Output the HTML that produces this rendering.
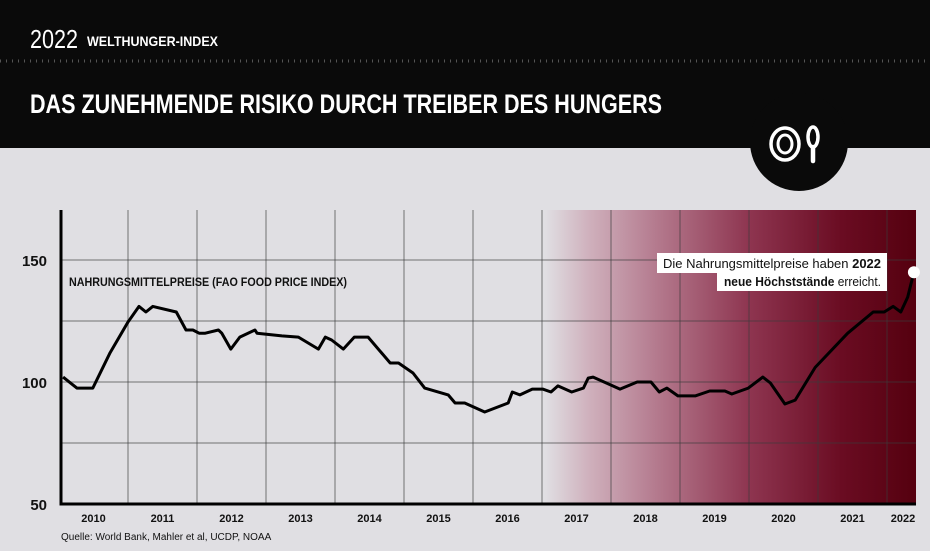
<!DOCTYPE html>
<html><head><meta charset="utf-8"><style>
html,body{margin:0;padding:0;background:#e0dfe3;}
svg{display:block;font-family:"Liberation Sans",sans-serif;}
</style></head><body>
<svg id="chart" width="930" height="551" viewBox="0 0 930 551" xmlns="http://www.w3.org/2000/svg">
<defs>
<linearGradient id="grad" x1="0" x2="1" y1="0" y2="0">
<stop offset="0" stop-color="#e0dfe3"/>
<stop offset="0.12" stop-color="#cfb0bc"/>
<stop offset="0.3" stop-color="#b47a8e"/>
<stop offset="0.55" stop-color="#8e3550"/>
<stop offset="0.8" stop-color="#6a0c22"/>
<stop offset="1" stop-color="#55000f"/>
</linearGradient>
</defs>
<rect x="0" y="0" width="930" height="551" fill="#e0dfe3"/>
<rect x="0" y="0" width="930" height="148" fill="#0a0a0a"/>
<line x1="0" y1="61" x2="930" y2="61" stroke="#555" stroke-width="3" stroke-dasharray="1 5"/>
<text x="30" y="48" fill="#fff" font-size="26" textLength="48" lengthAdjust="spacingAndGlyphs">2022</text>
<text x="87" y="46" fill="#fff" font-size="14" font-weight="bold" textLength="131" lengthAdjust="spacingAndGlyphs">WELTHUNGER-INDEX</text>
<text x="30" y="113" fill="#fff" font-size="27" font-weight="bold" textLength="632" lengthAdjust="spacingAndGlyphs">DAS ZUNEHMENDE RISIKO DURCH TREIBER DES HUNGERS</text>
<g>
<circle cx="799" cy="142" r="49" fill="#0a0a0a"/>
<ellipse cx="785" cy="144" rx="14" ry="16" fill="none" stroke="#fff" stroke-width="3.5"/>
<ellipse cx="785" cy="144" rx="7" ry="9" fill="none" stroke="#fff" stroke-width="3"/>
<ellipse cx="813" cy="137" rx="5" ry="10" fill="none" stroke="#fff" stroke-width="3.5"/>
<line x1="813" y1="147" x2="813" y2="161" stroke="#fff" stroke-width="4.5" stroke-linecap="round"/>
</g>
<g id="plot"></g>
</svg>
<script>
const yTicks=[50,100,150];
const yGrid=[75,100,125,150];
const yearLabels=["2010","2011","2012","2013","2014","2015","2016","2017","2018","2019","2020","2021","2022"];
const times=[2010.06,2010.26,2010.49,2010.74,2011.0,2011.16,2011.26,2011.36,2011.70,2011.84,2011.94,2012.03,2012.12,2012.31,2012.36,2012.49,2012.62,2012.84,2012.87,2013.23,2013.47,2013.76,2013.86,2013.95,2014.12,2014.28,2014.48,2014.80,2014.92,2015.13,2015.30,2015.64,2015.74,2015.88,2016.17,2016.51,2016.57,2016.68,2016.86,2017.01,2017.13,2017.23,2017.43,2017.60,2017.67,2017.74,2018.13,2018.38,2018.58,2018.70,2018.81,2018.97,2019.22,2019.43,2019.65,2019.75,2019.99,2020.20,2020.31,2020.52,2020.67,2020.96,2021.43,2021.80,2021.96,2022.09,2022.20,2022.30,2022.39];
const values=[102,97.5,97.5,112,124.6,131,128.7,131,128.7,121.3,121.3,120,120,121.3,120,113.5,118.4,121.3,120,118.9,118.4,113.5,118.4,117.2,113.5,118.4,118.4,107.8,107.8,103.7,97.5,94.7,91.4,91.4,87.7,91.4,95.9,94.7,97.1,97.1,95.9,98.4,95.9,97.5,101.6,102,97.1,100,100,95.9,97.5,94.3,94.3,96.3,96.3,95.1,97.5,102,99.6,91,92.6,106,120,128.7,128.7,131,128.7,134.8,145];

const NS="http://www.w3.org/2000/svg";
const g=document.getElementById('plot');
const X0=59,YW=69,L=61,R=916,T=210,B=504;
function xs(t){return X0+(t-2010)*YW;}
function ys(v){return 382-(v-100)*2.44;}
function mk(tag,attrs,parent){const e=document.createElementNS(NS,tag);for(const k in attrs)e.setAttribute(k,attrs[k]);(parent||g).appendChild(e);return e;}

const bg=mk('rect',{x:545,y:T,width:R-545,height:B-T,fill:'url(#grad)'});



yGrid.forEach(v=>{
  const l=mk('line',{x1:L,x2:R,y1:ys(v),y2:ys(v),stroke:'rgba(60,60,60,0.45)','stroke-width':1.5});
  
  
});
for(let i=1;i<yearLabels.length;i++){
  const x=xs(2010+i);
  if(x>=R) continue;
  const l=mk('line',{x1:x,x2:x,y1:T,y2:B,stroke:'rgba(60,60,60,0.45)','stroke-width':1.5});
  
  
}
const ax=mk('path',{d:`M${L} ${T} V${B} H${R}`,fill:'none',stroke:'#000','stroke-width':3});



yTicks.forEach(v=>{
  const t=mk('text',{x:47,y:ys(v)+6,'text-anchor':'end','font-size':15,'font-weight':'bold',fill:'#111'});
  t.textContent=v;
  
  
});
yearLabels.forEach((lab,i)=>{
  let cx=xs(2010+i+0.5);
  if(i===yearLabels.length-1) cx=903;
  const t=mk('text',{x:cx,y:522,'text-anchor':'middle','font-size':11,'font-weight':'bold',fill:'#111'});
  t.textContent=lab;
  
  
});

let d='';
times.forEach((t,i)=>{d+=(i?'L':'M')+xs(t).toFixed(1)+' '+ys(values[i]).toFixed(1);});
const line=mk('path',{d:d,fill:'none',stroke:'#000','stroke-width':3,'stroke-linejoin':'round'});


const last=times.length-1;
const dot=mk('circle',{cx:xs(times[last]),cy:ys(values[last]),r:6,fill:'#fff'});



const sl=mk('text',{x:69,y:286,'font-size':12,'font-weight':'bold',fill:'#111',textLength:278,lengthAdjust:'spacingAndGlyphs'});
sl.textContent='NAHRUNGSMITTELPREISE (FAO FOOD PRICE INDEX)';



const ann=mk('g',{});


mk('rect',{x:657,y:253,width:230,height:20,fill:'#fff'},ann);
mk('rect',{x:717,y:272,width:170,height:19,fill:'#fff'},ann);
const a1=mk('text',{x:663,y:268,'font-size':13,fill:'#111',textLength:218,lengthAdjust:'spacingAndGlyphs'},ann);
a1.innerHTML='Die Nahrungsmittelpreise haben <tspan font-weight="bold">2022</tspan>';
const a2=mk('text',{x:724,y:286,'font-size':13,fill:'#111',textLength:157,lengthAdjust:'spacingAndGlyphs'},ann);
a2.innerHTML='<tspan font-weight="bold">neue Höchststände</tspan> erreicht.';

const src=mk('text',{x:61,y:540,'font-size':10,fill:'#111'});
src.textContent='Quelle: World Bank, Mahler et al, UCDP, NOAA';


</script>
</body></html>
